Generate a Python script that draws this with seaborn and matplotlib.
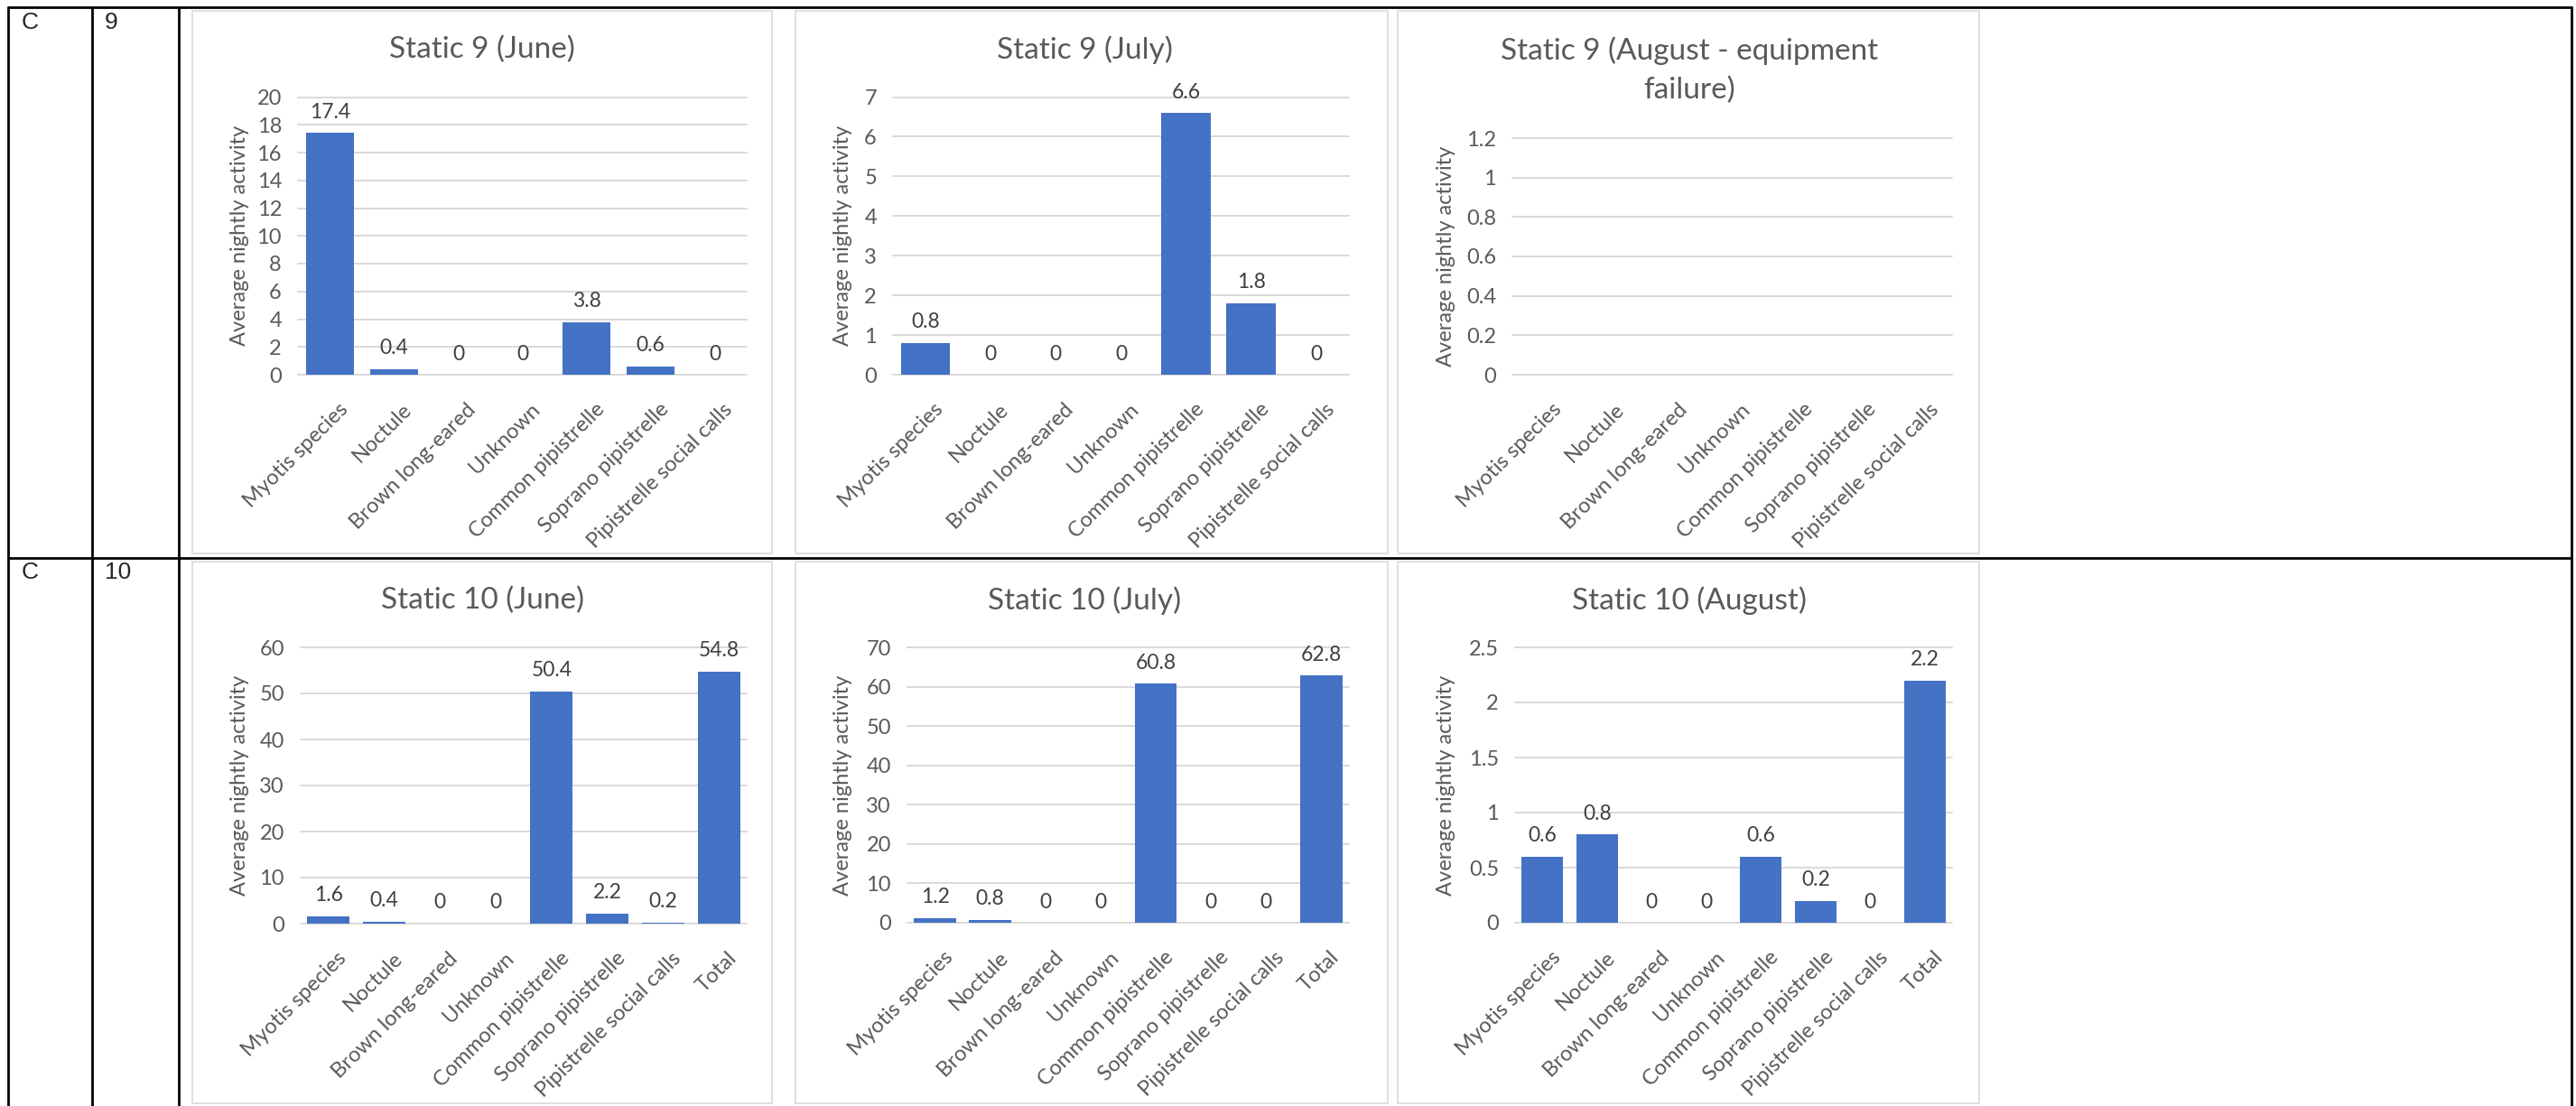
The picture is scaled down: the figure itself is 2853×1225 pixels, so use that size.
"""
Static detector bat activity - average nightly activity per species,
laid out as the table rows (location C, statics 9 and 10) from the report.
"""
import numpy as np
import matplotlib
matplotlib.use('Agg')
import matplotlib.pyplot as plt
from matplotlib.lines import Line2D
from matplotlib.patches import Rectangle
from matplotlib.ticker import FuncFormatter
from matplotlib.transforms import ScaledTranslation
import seaborn as sns

# --- data -------------------------------------------------------------
species = ["Myotis species", "Noctule", "Brown long-eared", "Unknown",
           "Common pipistrelle", "Soprano pipistrelle", "Pipistrelle social calls"]
species_total = species + ["Total"]

static9_june = [17.4, 0.4, 0, 0, 3.8, 0.6, 0]
static9_july = [0.8, 0, 0, 0, 6.6, 1.8, 0]
static9_august = [np.nan, np.nan, np.nan, np.nan, np.nan, np.nan, np.nan]  # equipment failure
static10_june = [1.6, 0.4, 0, 0, 50.4, 2.2, 0.2, 54.8]
static10_july = [1.2, 0.8, 0, 0, 60.8, 0, 0, 62.8]
static10_august = [0.6, 0.8, 0, 0, 0.6, 0.2, 0, 2.2]

row_area = ["C", "C"]
row_static = ["9", "10"]

# --- style ------------------------------------------------------------
W, H = 2853, 1225
BAR = '#4472C4'
GRID = '#D9D9D9'
TXT = '#595959'
LABEL = '#404040'

sns.set_style('white')
plt.rcParams['font.family'] = ['Lato', 'DejaVu Sans']

fig = plt.figure(figsize=(W / 100, H / 100), dpi=100)
fig.patch.set_facecolor('white')


def fx(px):
    return px / W


def fy(py):
    return 1 - py / H


def line(x0, y0, x1, y1):
    fig.add_artist(Line2D([fx(x0), fx(x1)], [fy(y0), fy(y1)], color='black',
                          lw=2, transform=fig.transFigure, zorder=-1))


def frame(x0, y0, x1, y1):
    fig.add_artist(Rectangle((fx(x0), fy(y1)), (x1 - x0) / W, (y1 - y0) / H,
                             transform=fig.transFigure, facecolor='white',
                             edgecolor=GRID, lw=1.2, zorder=-2))


def draw_chart(box, title, title_xy, cats, values, ymax, ystep, ylabel_x, show_labels=True):
    left, top, right, bottom = box
    ax = fig.add_axes([fx(left), fy(bottom), (right - left) / W, (bottom - top) / H])
    ax.patch.set_alpha(0)
    sns.barplot(x=cats, y=values, order=cats, color=BAR, saturation=1,
                width=0.76, linewidth=0, ax=ax)
    ax.set_ylim(0, ymax)
    ax.set_yticks(np.arange(0, ymax + ystep / 2, ystep))
    ax.yaxis.set_major_formatter(FuncFormatter(lambda v, _: f'{round(v, 2):g}'))
    ax.grid(axis='y', color=GRID, lw=1.4)
    ax.grid(axis='x', visible=False)
    ax.set_axisbelow(True)
    for gl in ax.get_ygridlines():
        gl.set_clip_on(False)
    sns.despine(ax=ax, left=True, bottom=True)

    ax.tick_params(axis='y', length=0, pad=13, labelsize=17, labelcolor=TXT)
    ax.tick_params(axis='x', length=0, pad=20, labelsize=17, labelcolor=TXT)
    shift = ScaledTranslation(9 / 100, 0, fig.dpi_scale_trans)
    for lbl in ax.get_xticklabels():
        lbl.set_rotation(45)
        lbl.set_ha('right')
        lbl.set_rotation_mode('anchor')
        lbl.set_transform(lbl.get_transform() + shift)

    ax.set_xlabel('')
    ax.set_ylabel('Average nightly activity', fontsize=17, color=TXT)
    ax.yaxis.set_label_coords((ylabel_x - left) / (right - left), 0.5)
    ax.yaxis.label.set_va('center')

    if show_labels:
        ax.bar_label(ax.containers[0], labels=[f'{v:g}' for v in values],
                     padding=9, fontsize=16.5, color=LABEL)

    fig.text(fx(title_xy[0]), fy(title_xy[1]), title, ha='center', va='center',
             fontsize=24, color=TXT, linespacing=1.5, multialignment='center')
    return ax


# table grid
line(9, 8, 2848, 8)
line(9, 618, 2848, 618)
line(9, 8, 9, 1225)
line(102, 8, 102, 1225)
line(198, 8, 198, 1225)
line(2848, 8, 2848, 1225)

for i, (area, stat) in enumerate(zip(row_area, row_static)):
    y = 13 + i * 609
    fig.text(fx(24), fy(y), area, fontsize=19, family='Liberation Sans', va='top')
    fig.text(fx(116), fy(y), stat, fontsize=19, family='Liberation Sans', va='top')

# chart frames
for x0, x1 in [(213, 855), (881, 1537), (1548, 2192)]:
    frame(x0, 12, x1, 613)
    frame(x0, 622, x1, 1222)

draw_chart((330, 107.5, 827, 415), 'Static 9 (June)', (534, 55),
           species, static9_june, 20, 2, 265)
draw_chart((989, 107.5, 1494, 415), 'Static 9 (July)', (1201, 55),
           species, static9_july, 7, 1, 934)
draw_chart((1675, 153, 2162, 415), 'Static 9 (August - equipment\nfailure)', (1871, 78),
           species, static9_august, 1.2, 0.2, 1601, show_labels=False)
draw_chart((333, 717, 827, 1023), 'Static 10 (June)', (534, 665),
           species_total, static10_june, 60, 10, 265)
draw_chart((1005, 717, 1494, 1022), 'Static 10 (July)', (1201, 665),
           species_total, static10_july, 70, 10, 934)
draw_chart((1678, 717, 2162, 1022), 'Static 10 (August)', (1871, 665),
           species_total, static10_august, 2.5, 0.5, 1601)

fig.savefig('out.png', dpi=100)
